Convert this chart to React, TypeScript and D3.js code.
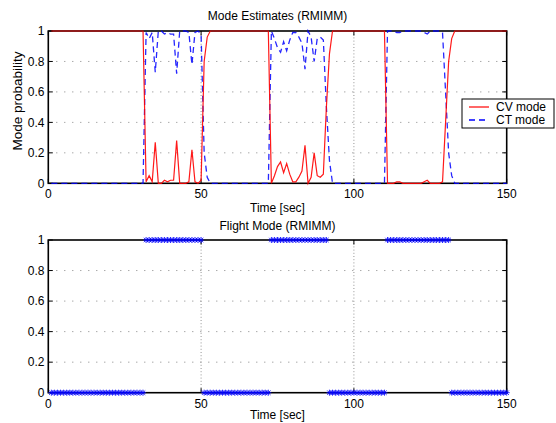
import React from "react";
import * as d3 from "d3";

// ---------- data (sample time in seconds, 1 s step) ----------
const timeSec = [
  1, 2, 3, 4, 5, 6, 7, 8, 9, 10, 11, 12, 13, 14, 15, 16, 17, 18, 19, 20,
  21, 22, 23, 24, 25, 26, 27, 28, 29, 30, 31, 32, 33, 34, 35, 36, 37, 38, 39, 40,
  41, 42, 43, 44, 45, 46, 47, 48, 49, 50, 51, 52, 53, 54, 55, 56, 57, 58, 59, 60,
  61, 62, 63, 64, 65, 66, 67, 68, 69, 70, 71, 72, 73, 74, 75, 76, 77, 78, 79, 80,
  81, 82, 83, 84, 85, 86, 87, 88, 89, 90, 91, 92, 93, 94, 95, 96, 97, 98, 99, 100,
  101, 102, 103, 104, 105, 106, 107, 108, 109, 110, 111, 112, 113, 114, 115, 116, 117, 118, 119, 120,
  121, 122, 123, 124, 125, 126, 127, 128, 129, 130, 131, 132, 133, 134, 135, 136, 137, 138, 139, 140,
  141, 142, 143, 144, 145, 146, 147, 148, 149, 150,
];

const cvMode = [
  1, 1, 1, 1, 1, 1, 1, 1, 1, 1,
  1, 1, 1, 1, 1, 1, 1, 1, 1, 1,
  1, 1, 1, 1, 1, 1, 1, 1, 1, 1,
  1, 0.01, 0.05, 0.01, 0.27, 0, 0, 0.02, 0.01, 0.02,
  0.02, 0.28, 0, 0, 0, 0.01, 0.22, 0.01, 0, 0.02,
  0.8, 0.96, 1, 1, 1, 1, 1, 1, 1, 1,
  1, 1, 1, 1, 1, 1, 1, 1, 1, 1,
  1, 1, 0, 0.05, 0.11, 0.14, 0.07, 0.13, 0.06, 0.01,
  0.01, 0.04, 0.08, 0.25, 0, 0.04, 0.2, 0.05, 0.04, 0.06,
  0.5, 0.85, 1, 1, 1, 1, 1, 1, 1, 1,
  1, 1, 1, 1, 1, 1, 1, 1, 1, 1,
  0, 0, 0, 0.01, 0.01, 0, 0, 0, 0, 0,
  0, 0, 0.01, 0.02, 0, 0, 0, 0, 0.01, 0.4,
  0.8, 0.95, 1, 1, 1, 1, 1, 1, 1, 1,
  1, 1, 1, 1, 1, 1, 1, 1, 1, 1,
];

const ctMode = [
  0, 0, 0, 0, 0, 0, 0, 0, 0, 0,
  0, 0, 0, 0, 0, 0, 0, 0, 0, 0,
  0, 0, 0, 0, 0, 0, 0, 0, 0, 0,
  0, 0.99, 0.95, 0.99, 0.73, 1, 1, 0.98, 0.99, 0.98,
  0.98, 0.72, 1, 1, 1, 0.99, 0.78, 0.99, 1, 0.98,
  0.2, 0.04, 0, 0, 0, 0, 0, 0, 0, 0,
  0, 0, 0, 0, 0, 0, 0, 0, 0, 0,
  0, 0, 1, 0.95, 0.89, 0.86, 0.93, 0.87, 0.94, 0.99,
  0.99, 0.96, 0.92, 0.75, 1, 0.96, 0.8, 0.95, 0.96, 0.94,
  0.5, 0.15, 0, 0, 0, 0, 0, 0, 0, 0,
  0, 0, 0, 0, 0, 0, 0, 0, 0, 0,
  1, 1, 1, 0.99, 0.99, 1, 1, 1, 1, 1,
  1, 1, 0.99, 0.98, 1, 1, 1, 1, 0.99, 0.6,
  0.2, 0.05, 0, 0, 0, 0, 0, 0, 0, 0,
  0, 0, 0, 0, 0, 0, 0, 0, 0, 0,
];

const flightMode = [
  0, 0, 0, 0, 0, 0, 0, 0, 0, 0,
  0, 0, 0, 0, 0, 0, 0, 0, 0, 0,
  0, 0, 0, 0, 0, 0, 0, 0, 0, 0,
  0, 1, 1, 1, 1, 1, 1, 1, 1, 1,
  1, 1, 1, 1, 1, 1, 1, 1, 1, 1,
  0, 0, 0, 0, 0, 0, 0, 0, 0, 0,
  0, 0, 0, 0, 0, 0, 0, 0, 0, 0,
  0, 0, 1, 1, 1, 1, 1, 1, 1, 1,
  1, 1, 1, 1, 1, 1, 1, 1, 1, 1,
  1, 0, 0, 0, 0, 0, 0, 0, 0, 0,
  0, 0, 0, 0, 0, 0, 0, 0, 0, 0,
  1, 1, 1, 1, 1, 1, 1, 1, 1, 1,
  1, 1, 1, 1, 1, 1, 1, 1, 1, 1,
  1, 0, 0, 0, 0, 0, 0, 0, 0, 0,
  0, 0, 0, 0, 0, 0, 0, 0, 0, 0,
];

const xTicks = [0, 50, 100, 150];
const yTicks = [0, 0.2, 0.4, 0.6, 0.8, 1];
const xGrid = [50, 100];
const yGrid = [0.2, 0.4, 0.6, 0.8];
const legendLabels = ["CV mode", "CT mode"];

// ---------- layout ----------
const W = 556;
const H = 423;
const FONT = "'Liberation Sans', Arial, Helvetica, sans-serif";
const X0 = 48.3;
const X1 = 506.7;
const topPanel = { top: 31, bottom: 183.3 };
const botPanel = { top: 240, bottom: 392.7 };

const x = d3.scaleLinear().domain([0, 150]).range([X0, X1]);

function fmt(v: number) {
  return String(+v.toFixed(1));
}

function Axes({
  y,
  top,
  bottom,
}: {
  y: d3.ScaleLinear<number, number>;
  top: number;
  bottom: number;
}) {
  const tickLen = 4.5;
  return (
    <g>
      {/* grid */}
      {xGrid.map((t) => (
        <line
          key={"gx" + t}
          x1={x(t)}
          x2={x(t)}
          y1={top}
          y2={bottom}
          stroke="#888"
          strokeWidth={0.9}
          strokeDasharray="1,2.2"
        />
      ))}
      {yGrid.map((t) => (
        <line
          key={"gy" + t}
          x1={X0}
          x2={X1}
          y1={y(t)}
          y2={y(t)}
          stroke="#777"
          strokeWidth={0.9}
          strokeDasharray="1,7"
        />
      ))}
      {/* ticks */}
      {xTicks.map((t) => (
        <g key={"tx" + t}>
          <line x1={x(t)} x2={x(t)} y1={bottom} y2={bottom - tickLen} stroke="#000" strokeWidth={1} />
          <line x1={x(t)} x2={x(t)} y1={top} y2={top + tickLen} stroke="#000" strokeWidth={1} />
          <text
            x={x(t)}
            y={bottom + 14.8}
            textAnchor="middle"
            fontSize={12}
            fontFamily={FONT}
            fill="#000"
          >
            {fmt(t)}
          </text>
        </g>
      ))}
      {yTicks.map((t) => (
        <g key={"ty" + t}>
          <line x1={X0} x2={X0 + tickLen} y1={y(t)} y2={y(t)} stroke="#000" strokeWidth={1} />
          <line x1={X1} x2={X1 - tickLen} y1={y(t)} y2={y(t)} stroke="#000" strokeWidth={1} />
          <text
            x={44.5}
            y={y(t) + 4.3}
            textAnchor="end"
            fontSize={12}
            fontFamily={FONT}
            fill="#000"
          >
            {fmt(t)}
          </text>
        </g>
      ))}
      {/* box */}
      <rect
        x={X0}
        y={top}
        width={X1 - X0}
        height={bottom - top}
        fill="none"
        stroke="#000"
        strokeWidth={1.6}
      />
    </g>
  );
}

export default function App() {
  const yTop = d3.scaleLinear().domain([0, 1]).range([topPanel.bottom, topPanel.top]);
  const yBot = d3.scaleLinear().domain([0, 1]).range([botPanel.bottom, botPanel.top]);

  const lineCV = d3
    .line<number>()
    .x((_, i) => x(timeSec[i]))
    .y((d) => yTop(d));
  const lineCT = d3
    .line<number>()
    .x((_, i) => x(timeSec[i]))
    .y((d) => yTop(d));

  const star = "M-3,0H3M0,-3V3M-2.2,-2.2L2.2,2.2M-2.2,2.2L2.2,-2.2";

  const legX = 462;
  const legY = 99;
  const legW = 92;
  const legH = 29;

  return (
    <svg
      width={W}
      height={H}
      viewBox={`0 0 ${W} ${H}`}
      style={{ position: "absolute", left: 0, top: 0, background: "#fff" }}
    >
      <rect x={0} y={0} width={W} height={H} fill="#fff" />

      {/* ---------- top panel ---------- */}
      <text x={(X0 + X1) / 2} y={20} textAnchor="middle" fontSize={12} fontFamily={FONT}>
        Mode Estimates (RMIMM)
      </text>
      <Axes y={yTop} top={topPanel.top} bottom={topPanel.bottom} />
      <path d={lineCT(ctMode) || ""} fill="none" stroke="#0000ff" strokeWidth={1.3} strokeDasharray="6,4" opacity={0.85} />
      <path d={lineCV(cvMode) || ""} fill="none" stroke="#ff0000" strokeWidth={1.2} opacity={0.9} />
      <text
        transform={`translate(22,101) rotate(-90)`}
        textAnchor="middle"
        fontSize={13.5}
        fontFamily={FONT}
      >
        Mode probability
      </text>
      <text x={(X0 + X1) / 2} y={212} textAnchor="middle" fontSize={12} fontFamily={FONT}>
        Time [sec]
      </text>

      {/* legend */}
      <rect x={legX} y={legY} width={legW} height={legH} fill="#fff" stroke="#000" strokeWidth={1} />
      <line x1={legX + 7} x2={legX + 27} y1={legY + 8} y2={legY + 8} stroke="#ff0000" strokeWidth={1.2} />
      <line
        x1={legX + 7}
        x2={legX + 27}
        y1={legY + 21}
        y2={legY + 21}
        stroke="#0000ff"
        strokeWidth={1.3}
        strokeDasharray="6,4"
      />
      {legendLabels.map((l, i) => (
        <text key={l} x={legX + 34} y={legY + 12.3 + i * 13} fontSize={12} fontFamily={FONT}>
          {l}
        </text>
      ))}

      {/* ---------- bottom panel ---------- */}
      <text x={(X0 + X1) / 2} y={230} textAnchor="middle" fontSize={12} fontFamily={FONT}>
        Flight Mode (RMIMM)
      </text>
      <Axes y={yBot} top={botPanel.top} bottom={botPanel.bottom} />
      <g>
        {flightMode.map((v, i) => (
          <path
            key={i}
            d={star}
            transform={`translate(${x(timeSec[i])},${yBot(v)})`}
            stroke="#0000ff"
            strokeWidth={1}
            fill="none"
            opacity={0.85}
          />
        ))}
      </g>
      <text x={(X0 + X1) / 2} y={419} textAnchor="middle" fontSize={12} fontFamily={FONT}>
        Time [sec]
      </text>
    </svg>
  );
}
